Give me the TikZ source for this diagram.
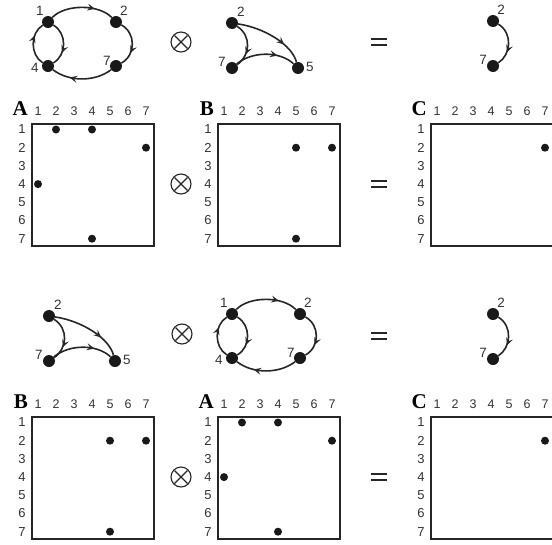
\documentclass[tikz,border=0pt]{standalone}
\usepackage{fontspec}
\setmainfont{Liberation Sans}
\newfontfamily\lettf{Liberation Serif}
\usetikzlibrary{arrows.meta,decorations.markings}
\tikzset{
  gdot/.style={circle,fill=black!90,inner sep=0pt,minimum size=12pt},
  mdot/.style={circle,fill=black!90,inner sep=0pt,minimum size=8pt},
  glab/.style={font=\fontsize{13.5}{13.5}\selectfont,inner sep=0pt,text=black!80},
  clab/.style={font=\fontsize{12.5}{12.5}\selectfont,inner sep=0pt,text=black!80,anchor=base},
  rlab/.style={font=\fontsize{13}{13}\selectfont,inner sep=0pt,text=black!80},
  mlet/.style={font=\lettf\bfseries\fontsize{21}{21}\selectfont,inner sep=0pt,anchor=base east},
  mbox/.style={draw=black!85,line width=2pt,anchor=north west,inner sep=0pt},
  garc/.style={line width=1.6pt,draw=black!85,postaction={decorate},
    decoration={markings,mark=at position 0.7 with {\arrow[black!85]{Stealth[length=7.5pt,width=7pt,inset=3pt]}}}},
  otc/.style={circle,draw=black!85,line width=1.1pt,minimum size=20pt,inner sep=0pt,
    path picture={\draw[line width=1.1pt,black!85]
      ([shift={(-6.5pt,-6.5pt)}]path picture bounding box.center) -- ([shift={(6.5pt,6.5pt)}]path picture bounding box.center)
      ([shift={(-6.5pt,6.5pt)}]path picture bounding box.center) -- ([shift={(6.5pt,-6.5pt)}]path picture bounding box.center);}},
  eqbox/.style={minimum width=16pt,minimum height=6.5pt,inner sep=0pt},
  eqline/.style={line width=2pt,draw=black!85}
}
% graph A: nodes 1,2,4,7
\newcommand\graphAA[3]{%
\begin{scope}[shift={(#2,#3)}]
  \node[gdot] (#1n1) at (48,-22) {};
  \node[gdot] (#1n2) at (116,-22) {};
  \node[gdot] (#1n4) at (48,-66) {};
  \node[gdot] (#1n7) at (116,-66) {};
  \node[glab] (#1l1) at (40,-11) {1};
  \node[glab] (#1l2) at (124,-11) {2};
  \node[glab] (#1l4) at (35,-68) {4};
  \node[glab] (#1l7) at (107,-61) {7};
  \draw[garc] (#1n1) .. controls (65,-4) and (99,-4) .. (#1n2);
  \draw[garc] (#1n2) .. controls (136,-33) and (136,-55) .. (#1n7);
  \draw[garc] (#1n7) .. controls (95,-82) and (69,-82) .. (#1n4);
  \draw[garc] (#1n4) .. controls (30,-55) and (30,-33) .. (#1n1);
  \draw[garc] (#1n1) .. controls (67,-33) and (67,-55) .. (#1n4);
\end{scope}}
% graph B: nodes 2,7,5
\newcommand\graphBB[3]{%
\begin{scope}[shift={(#2,#3)}]
  \node[gdot] (#1n2) at (232,-23) {};
  \node[gdot] (#1n7) at (232,-68) {};
  \node[gdot] (#1n5) at (298,-68) {};
  \node[glab] (#1l2) at (241,-12) {2};
  \node[glab] (#1l7) at (222,-62) {7};
  \node[glab] (#1l5) at (310,-67) {5};
  \draw[garc] (#1n2) .. controls (252,-36) and (250,-56) .. (#1n7);
  \draw[garc] (#1n2) .. controls (265,-28) and (292,-45) .. (#1n5);
  \draw[garc] (#1n7) .. controls (252,-51) and (280,-51) .. (#1n5);
\end{scope}}
% graph C: nodes 2,7
\newcommand\graphCC[3]{%
\begin{scope}[shift={(#2,#3)}]
  \node[gdot] (#1n2) at (493,-21) {};
  \node[gdot] (#1n7) at (493,-66) {};
  \node[glab] (#1l2) at (501,-10) {2};
  \node[glab] (#1l7) at (483,-60) {7};
  \draw[garc] (#1n2) .. controls (513,-33) and (511,-55) .. (#1n7);
\end{scope}}
% matrix: name, left, top, letter, dots i/j, box width
\newcommand\mgrid[6]{%
\begin{scope}[shift={(#2,-#3)}]
  \node[mbox,minimum width=#6pt,minimum height=122pt] (#1box) at (0,0) {};
  \node[mlet] (#1let) at (-3,8) {#4};
  \foreach \j in {1,...,7} \node[clab] (#1c\j) at ({7+18*(\j-1)},8) {\j};
  \foreach \i in {1,...,7} \node[rlab] (#1r\i) at (-9,{-6.5-18.2*(\i-1)}) {\i};
  \foreach \i/\j in {#5} \node[mdot] (#1d\i\j) at ({7+18*(\j-1)},{-6.5-18.2*(\i-1)}) {};
\end{scope}}
\begin{document}
\begin{tikzpicture}[x=1pt,y=1pt]
\useasboundingbox (0,0) rectangle (552,-544);
% top row
\graphAA{ta}{0}{0}
\node[otc] (ot1) at (181,-42) {};
\graphBB{tb}{0}{0}
\node[eqbox] (eq1) at (379,-42) {};
\draw[eqline] (eq1.north west) -- (eq1.north east) (eq1.south west) -- (eq1.south east);
\graphCC{tc}{0}{0}
\mgrid{MA}{31}{123}{A}{1/2,1/4,2/7,4/1,7/4}{122}
\node[otc] (ot2) at (181,-184) {};
\mgrid{MB}{217}{123}{B}{2/5,2/7,7/5}{122}
\node[eqbox] (eq2) at (379,-184) {};
\draw[eqline] (eq2.north west) -- (eq2.north east) (eq2.south west) -- (eq2.south east);
\mgrid{MC}{430}{123}{C}{2/7}{126}
% bottom row
\graphBB{bb}{-183}{-293}
\node[otc] (ot3) at (182,-334) {};
\graphAA{ba}{184}{-292}
\node[eqbox] (eq3) at (379,-336) {};
\draw[eqline] (eq3.north west) -- (eq3.north east) (eq3.south west) -- (eq3.south east);
\graphCC{bc}{0}{-293}
\mgrid{NB}{31}{416}{B}{2/5,2/7,7/5}{122}
\node[otc] (ot4) at (181,-477) {};
\mgrid{NA}{217}{416}{A}{1/2,1/4,2/7,4/1,7/4}{122}
\node[eqbox] (eq4) at (379,-477) {};
\draw[eqline] (eq4.north west) -- (eq4.north east) (eq4.south west) -- (eq4.south east);
\mgrid{NC}{430}{416}{C}{2/7}{126}
\end{tikzpicture}
\end{document}
